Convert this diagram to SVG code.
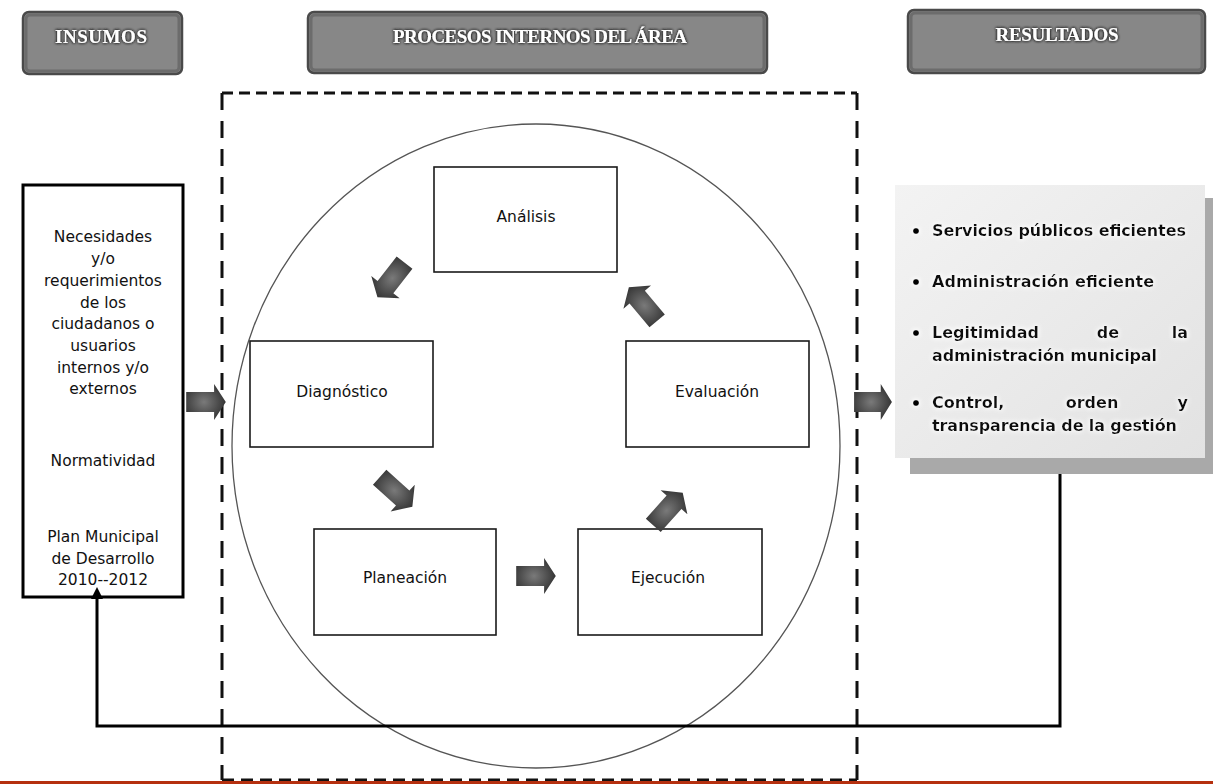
<svg xmlns="http://www.w3.org/2000/svg" width="1213" height="784" viewBox="0 0 1213 784">
<style>
.hdr-box{fill:#878787;stroke:#4a4a4a;stroke-width:2.5}
.hdr-inner{fill:none;stroke:#6c6c6c;stroke-width:3}
.hdr-txt{font-family:"Liberation Serif","Times New Roman",serif;font-weight:bold;font-size:19px;fill:#ffffff;text-anchor:middle}
.box{fill:#ffffff;stroke:#1a1a1a;stroke-width:1.6}
.lbl{font-family:"DejaVu Sans",Verdana,sans-serif;font-size:15.5px;fill:#111;text-anchor:middle}
.in-txt{font-family:"DejaVu Sans",Verdana,sans-serif;font-size:15.5px;fill:#111;text-anchor:middle}
.res{font-family:"DejaVu Sans",Verdana,sans-serif;font-weight:bold;font-size:16px;fill:#111}
.blk{fill:url(#arrGrad)}
.conn{fill:none;stroke:#000;stroke-width:3}
</style>
<defs>
<radialGradient id="arrGrad" cx="0.45" cy="0.5" r="0.6">
<stop offset="0" stop-color="#7a7a7a"/>
<stop offset="1" stop-color="#2e2e2e"/>
</radialGradient>
<linearGradient id="resGrad" x1="0" y1="0" x2="1" y2="1">
<stop offset="0" stop-color="#f3f3f3"/>
<stop offset="1" stop-color="#e2e2e2"/>
</linearGradient>
<filter id="glow" x="-20%" y="-50%" width="140%" height="200%">
<feGaussianBlur in="SourceAlpha" stdDeviation="1.6" result="b"/>
<feFlood flood-color="#222"/>
<feComposite operator="in" in2="b" result="s"/>
<feMerge><feMergeNode in="s"/><feMergeNode in="s"/><feMergeNode in="SourceGraphic"/></feMerge>
</filter>
<filter id="wglow" x="-10%" y="-50%" width="120%" height="200%">
<feGaussianBlur in="SourceAlpha" stdDeviation="2.5" result="b"/>
<feFlood flood-color="#ffffff"/>
<feComposite operator="in" in2="b" result="s"/>
<feMerge><feMergeNode in="s"/><feMergeNode in="s"/><feMergeNode in="SourceGraphic"/></feMerge>
</filter>
<path id="blkArrow" d="M-22,-10 L9,-10 L9,-18 L22,0 L9,18 L9,10 L-22,10 Z"/>
</defs>
<rect width="1213" height="784" fill="#ffffff"/>

<!-- Header nodes -->
<g id="hdr-insumos">
<rect class="hdr-box" x="23" y="12" width="159" height="62" rx="6"/>
<rect class="hdr-inner" x="26" y="15" width="153" height="56" rx="4"/>
<text class="hdr-txt" x="101" y="43" textLength="92" filter="url(#glow)">INSUMOS</text>
</g>
<g id="hdr-procesos">
<rect class="hdr-box" x="308" y="12" width="459" height="61" rx="6"/>
<rect class="hdr-inner" x="311" y="15" width="453" height="55" rx="4"/>
<text class="hdr-txt" x="540" y="43" textLength="294" filter="url(#glow)">PROCESOS INTERNOS DEL ÁREA</text>
</g>
<g id="hdr-resultados">
<rect class="hdr-box" x="908" y="10" width="297" height="63" rx="6"/>
<rect class="hdr-inner" x="911" y="13" width="291" height="57" rx="4"/>
<text class="hdr-txt" x="1057" y="41" textLength="123" filter="url(#glow)">RESULTADOS</text>
</g>

<!-- Dashed process area -->
<g id="area">
<line x1="222" y1="93" x2="857" y2="93" stroke="#111" stroke-width="3" stroke-dasharray="11 6"/>
<line x1="222" y1="780" x2="857" y2="780" stroke="#111" stroke-width="3" stroke-dasharray="12 7"/>
<line x1="222" y1="93" x2="222" y2="780" stroke="#111" stroke-width="3" stroke-dasharray="17 11"/>
<line x1="857" y1="93" x2="857" y2="780" stroke="#111" stroke-width="3" stroke-dasharray="17 11"/>
<ellipse cx="536" cy="446" rx="304" ry="322" fill="none" stroke="#555" stroke-width="1.3"/>
</g>

<!-- Insumos box -->
<g id="insumos">
<rect x="23" y="185" width="160" height="412" fill="#fff" stroke="#000" stroke-width="3"/>
<text class="in-txt" x="103" y="242">Necesidades</text>
<text class="in-txt" x="103" y="264">y/o</text>
<text class="in-txt" x="103" y="286">requerimientos</text>
<text class="in-txt" x="103" y="308">de los</text>
<text class="in-txt" x="103" y="329">ciudadanos o</text>
<text class="in-txt" x="103" y="351">usuarios</text>
<text class="in-txt" x="103" y="373">internos y/o</text>
<text class="in-txt" x="103" y="394">externos</text>
<text class="in-txt" x="103" y="466">Normatividad</text>
<text class="in-txt" x="103" y="542">Plan Municipal</text>
<text class="in-txt" x="103" y="564">de Desarrollo</text>
<text class="in-txt" x="103" y="585">2010--2012</text>
</g>

<!-- Process nodes -->
<g id="analisis">
<rect class="box" x="434" y="167" width="183" height="105"/>
<text class="lbl" x="526" y="222">Análisis</text>
</g>
<g id="diagnostico">
<rect class="box" x="250" y="341" width="183" height="106"/>
<text class="lbl" x="342" y="397">Diagnóstico</text>
</g>
<g id="evaluacion">
<rect class="box" x="626" y="341" width="183" height="106"/>
<text class="lbl" x="717" y="397">Evaluación</text>
</g>
<g id="planeacion">
<rect class="box" x="314" y="529" width="182" height="106"/>
<text class="lbl" x="405" y="583">Planeación</text>
</g>
<g id="ejecucion">
<rect class="box" x="578" y="529" width="184" height="106"/>
<text class="lbl" x="668" y="583">Ejecución</text>
</g>

<!-- Resultados box -->
<g id="resultados">
<rect x="910" y="198" width="303" height="276" fill="#a9a9a9"/>
<rect x="895" y="185" width="310" height="273" fill="url(#resGrad)"/>
<g filter="url(#wglow)">
<circle cx="916" cy="231" r="3"/>
<text class="res" x="932" y="236" textLength="254">Servicios públicos eficientes</text>
<circle cx="916" cy="282" r="3"/>
<text class="res" x="932" y="287" textLength="222">Administración eficiente</text>
<circle cx="916" cy="333" r="3"/>
<text class="res" x="932" y="338">Legitimidad</text>
<text class="res" x="1108" y="338" text-anchor="middle">de</text>
<text class="res" x="1188" y="338" text-anchor="end">la</text>
<text class="res" x="932" y="361" textLength="225">administración municipal</text>
<circle cx="916" cy="403" r="3"/>
<text class="res" x="932" y="408">Control,</text>
<text class="res" x="1092" y="408" text-anchor="middle">orden</text>
<text class="res" x="1188" y="408" text-anchor="end">y</text>
<text class="res" x="932" y="431" textLength="245">transparencia de la gestión</text>
</g>
</g>

<!-- Connectors -->
<g id="connectors">
<use href="#blkArrow" class="blk" transform="translate(206,402) scale(0.9,1)"/>
<use href="#blkArrow" class="blk" transform="translate(873,402) scale(0.86,1)"/>
<use href="#blkArrow" class="blk" transform="translate(536,576) scale(0.9,1)"/>
<use href="#blkArrow" class="blk" transform="translate(391,280) rotate(128)"/>
<use href="#blkArrow" class="blk" transform="translate(396,492) rotate(42)"/>
<use href="#blkArrow" class="blk" transform="translate(668,509) rotate(-48)"/>
<use href="#blkArrow" class="blk" transform="translate(643,304) rotate(-130)"/>
<path class="conn" d="M1060,474 L1060,726 L97,726 L97,596"/>
<path d="M91,599 L97,587 L103,599 Z" fill="#000"/>
</g>

<rect x="0" y="781" width="1213" height="3" fill="#b5300f"/>
</svg>
